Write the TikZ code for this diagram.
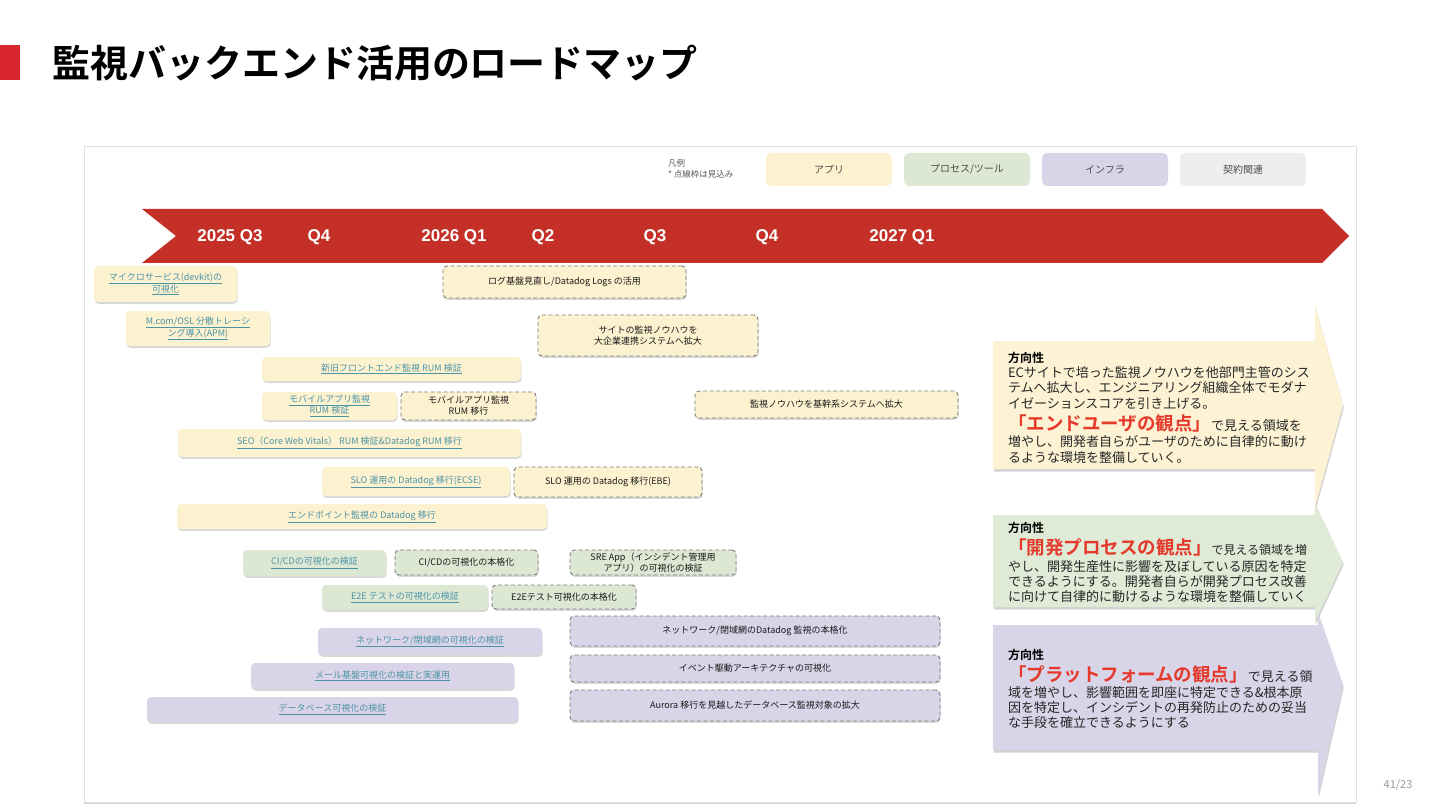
\documentclass[tikz,border=0pt]{standalone}
\usepackage{fontspec}
\setmainfont{Noto Sans CJK JP}[BoldFont={* Bold}]
\newfontfamily\latfont{Liberation Sans}
\usetikzlibrary{shadows}
\definecolor{titlered}{HTML}{D7262E}
\definecolor{tlred}{HTML}{C42F27}
\definecolor{appc}{HTML}{FDF2D0}
\definecolor{procc}{HTML}{DDE8D4}
\definecolor{infrac}{HTML}{D9D4E8}
\definecolor{contc}{HTML}{EEEEEE}
\definecolor{linkc}{HTML}{4C93A6}
\definecolor{dashc}{HTML}{7A7A7A}
\definecolor{redt}{HTML}{E5392C}
\definecolor{arrapp}{HTML}{FDF3D4}
\definecolor{arrproc}{HTML}{DFEAD7}
\definecolor{arrinfra}{HTML}{D9D5E8}
\newcommand\lk[1]{\underline{#1}}
\begin{document}
\begin{tikzpicture}[x=1pt,y=-1pt,
  every node/.style={inner sep=0pt,outer sep=0pt},
  bar/.style={rounded corners=4pt,anchor=north west,align=center,
    font=\fontsize{9}{11}\selectfont,
    drop shadow={shadow xshift=0.6pt,shadow yshift=-1.8pt,opacity=0.3}},
  solidbar/.style={bar,draw=none,text=linkc},
  dashbar/.style={bar,draw=dashc,line width=0.9pt,dash pattern=on 4pt off 2.5pt,text=black!90},
  legendbox/.style={rounded corners=5pt,minimum width=126pt,minimum height=33pt,
    font=\fontsize{10}{12}\selectfont,text=black!70},
  tl/.style={font=\latfont\bfseries\fontsize{17}{20}\selectfont,text=white},
  dirtext/.style={anchor=base west,font=\fontsize{13}{16}\selectfont,text=black!85},
  dirhead/.style={anchor=base west,font=\bfseries\fontsize{12}{14}\selectfont,text=black},
  arrowshadow/.style={drop shadow={shadow xshift=0.8pt,shadow yshift=-2.5pt,opacity=0.35}}
]
\useasboundingbox (0,0) rectangle (1440,810);
\fill[white] (0,0) rectangle (1440,810);

% title
\fill[titlered] (0,45) rectangle (20,80);
\node[anchor=base west,font=\bfseries\fontsize{38}{40}\selectfont] (title) at (52,78) {監視バックエンド活用のロードマップ};

% panel
\fill[white,drop shadow={shadow xshift=0pt,shadow yshift=-2pt,opacity=0.35}] (84,146) rectangle (1356,802);
\draw[black!12] (84,146) rectangle (1356,802);

% legend
\node[anchor=west,align=left,font=\fontsize{8.5}{11}\selectfont,text=black!65] (lgt) at (668,169) {凡例\\* 点線枠は見込み};
\node[legendbox,fill=appc] (lg1) at (829,169.5) {アプリ};
\node[legendbox,fill=procc] (lg2) at (967,169.5) {プロセス/ツール};
\node[legendbox,fill=infrac] (lg3) at (1105,169.5) {インフラ};
\node[legendbox,fill=contc] (lg4) at (1243,169.5) {契約関連};

% timeline
\fill[tlred] (142,209) -- (1322,209) -- (1349,236) -- (1322,263) -- (142,263) -- (176,236) -- cycle;
\node[tl] (t1) at (230,237) {2025 Q3};
\node[tl] (t2) at (319,237) {Q4};
\node[tl] (t3) at (454,237) {2026 Q1};
\node[tl] (t4) at (543,237) {Q2};
\node[tl] (t5) at (655,237) {Q3};
\node[tl] (t6) at (767,237) {Q4};
\node[tl] (t7) at (902,237) {2027 Q1};

% app bars
\node[solidbar,fill=appc,minimum width=143pt,minimum height=36pt] (b1) at (94,266) {\lk{マイクロサービス(devkit)の}\\\lk{可視化}};
\node[dashbar,fill=appc,minimum width=243pt,minimum height=32pt] (b2) at (443,266) {ログ基盤見直し/Datadog Logs の活用};
\node[solidbar,fill=appc,minimum width=144pt,minimum height=35pt] (b3) at (126,311) {\lk{M.com/OSL 分散トレーシ}\\\lk{ング導入(APM)}};
\node[dashbar,fill=appc,minimum width=220pt,minimum height=41pt] (b4) at (538,315) {サイトの監視ノウハウを\\大企業連携システムへ拡大};
\node[solidbar,fill=appc,minimum width=259pt,minimum height=24pt] (b5) at (262,357) {\lk{新旧フロントエンド監視 RUM 検証}};
\node[solidbar,fill=appc,minimum width=135pt,minimum height=28pt] (b6) at (262,392) {\lk{モバイルアプリ監視}\\\lk{RUM 検証}};
\node[dashbar,fill=appc,minimum width=135pt,minimum height=28pt] (b7) at (401,392) {モバイルアプリ監視\\RUM 移行};
\node[dashbar,fill=appc,minimum width=263pt,minimum height=27pt] (b8) at (695,391) {監視ノウハウを基幹系システムへ拡大};
\node[solidbar,fill=appc,minimum width=343pt,minimum height=28pt] (b9) at (178,429) {\lk{SEO（Core Web Vitals） RUM 検証\&Datadog RUM 移行}};
\node[solidbar,fill=appc,minimum width=188pt,minimum height=29pt] (b10) at (322,467) {\lk{SLO 運用の Datadog 移行(ECSE)}};
\node[dashbar,fill=appc,minimum width=188pt,minimum height=30pt] (b11) at (514,467) {SLO 運用の Datadog 移行(EBE)};
\node[solidbar,fill=appc,minimum width=370pt,minimum height=25pt] (b12) at (177,504) {\lk{エンドポイント監視の Datadog 移行}};

% process bars
\node[solidbar,fill=procc,minimum width=143pt,minimum height=26pt] (b13) at (243,550) {\lk{CI/CDの可視化の検証}};
\node[dashbar,fill=procc,minimum width=143pt,minimum height=25pt] (b14) at (395,550) {CI/CDの可視化の本格化};
\node[dashbar,fill=procc,minimum width=166pt,minimum height=25pt] (b15) at (570,550) {SRE App（インシデント管理用\\アプリ）の可視化の検証};
\node[solidbar,fill=procc,minimum width=166pt,minimum height=25pt] (b16) at (322,585) {\lk{E2E テストの可視化の検証}};
\node[dashbar,fill=procc,minimum width=144pt,minimum height=24pt] (b17) at (492,585) {E2Eテスト可視化の本格化};

% infra bars
\node[solidbar,fill=infrac,minimum width=224pt,minimum height=27pt] (b18) at (318,628) {\lk{ネットワーク/閉域網の可視化の検証}};
\node[dashbar,fill=infrac,minimum width=370pt,minimum height=30pt] (b19) at (570,616) {ネットワーク/閉域網のDatadog 監視の本格化};
\node[solidbar,fill=infrac,minimum width=263pt,minimum height=26pt] (b20) at (251,663) {\lk{メール基盤可視化の検証と実運用}};
\node[dashbar,fill=infrac,minimum width=370pt,minimum height=27pt] (b21) at (570,655) {イベント駆動アーキテクチャの可視化};
\node[solidbar,fill=infrac,minimum width=371pt,minimum height=25pt] (b22) at (147,697) {\lk{データベース可視化の検証}};
\node[dashbar,fill=infrac,minimum width=370pt,minimum height=31pt] (b23) at (570,690) {Aurora 移行を見越したデータベース監視対象の拡大};

% direction arrows
\fill[arrapp,arrowshadow] (993,341) -- (1315,341) -- (1315,305) -- (1343,405) -- (1315,507) -- (1315,469) -- (993,469) -- cycle;
\fill[arrproc,arrowshadow] (993,515) -- (1315,515) -- (1315,503) -- (1343,562) -- (1315,622) -- (1315,607) -- (993,607) -- cycle;
\fill[arrinfra,arrowshadow] (993,625) -- (1318,625) -- (1318,612) -- (1343,685) -- (1318,795) -- (1318,750) -- (993,750) -- cycle;

% yellow text
\node[dirhead] (ya) at (1008,362) {方向性};
\node[dirtext] (yb) at (1008,377) {ECサイトで培った監視ノウハウを他部門主管のシス};
\node[dirtext] (yc) at (1008,392.5) {テムへ拡大し、エンジニアリング組織全体でモダナ};
\node[dirtext] (yd) at (1008,408) {イゼーションスコアを引き上げる。};
\node[dirtext] (ye) at (1008,430.5) {{\color{redt}\bfseries\fontsize{18.5}{20}\selectfont 「エンドユーザの観点」}で見える領域を};
\node[dirtext] (yf) at (1008,446.5) {増やし、開発者自らがユーザのために自律的に動け};
\node[dirtext] (yg) at (1008,462) {るような環境を整備していく。};

% green text
\node[dirhead] (ga) at (1008,532) {方向性};
\node[dirtext] (gb) at (1008,554) {{\color{redt}\bfseries\fontsize{18.5}{20}\selectfont 「開発プロセスの観点」}{\fontsize{12}{14}\selectfont で見える領域を増}};
\node[dirtext] (gc) at (1008,571) {やし、開発生産性に影響を及ぼしている原因を特定};
\node[dirtext] (gd) at (1008,586) {できるようにする。開発者自らが開発プロセス改善};
\node[dirtext] (ge) at (1008,601) {に向けて自律的に動けるような環境を整備していく};

% purple text
\node[dirhead] (pa) at (1008,659) {方向性};
\node[dirtext] (pb) at (1008,681) {{\color{redt}\bfseries\fontsize{18.5}{20}\selectfont 「プラットフォームの観点」}で見える領};
\node[dirtext] (pc) at (1008,697) {域を増やし、影響範囲を即座に特定できる\&根本原};
\node[dirtext] (pd) at (1008,712) {因を特定し、インシデントの再発防止のための妥当};
\node[dirtext] (pe) at (1008,727) {な手段を確立できるようにする};

% page number
\node[font=\fontsize{11}{12}\selectfont,text=black!40] (pg) at (1398,785) {41/23};
\end{tikzpicture}
\end{document}
